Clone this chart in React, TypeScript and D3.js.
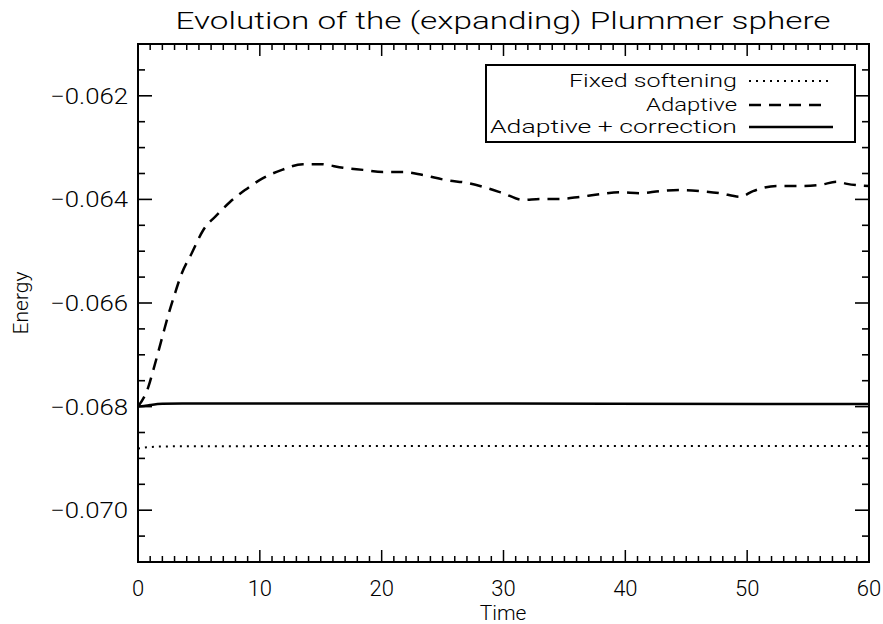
import React from "react";
import * as d3 from "d3";

const xTicks = [0, 10, 20, 30, 40, 50, 60];
const yTicks = [-0.062, -0.064, -0.066, -0.068, -0.070];
const yTickLabels = ["\u22120.062", "\u22120.064", "\u22120.066", "\u22120.068", "\u22120.070"];

const adaptiveT = [0, 0.85, 1.26, 1.67, 2.08, 2.49, 3.04, 3.59, 4.41, 5.36, 6.48, 7.55, 8.78, 10.26, 11.82, 13.54, 14.94, 16.83, 18.47, 20.11, 21.75, 23.39, 25.36, 27.0, 28.65, 29.96, 31.6, 33.0, 34.64, 36.28, 37.92, 39.56, 41.2, 42.85, 44.49, 46.13, 47.77, 49.41, 50.48, 52.45, 54.34, 55.98, 57.37, 58.2, 60];
const adaptiveE = [-0.0680, -0.06762, -0.06729, -0.06694, -0.06658, -0.06623, -0.06581, -0.06543, -0.06504, -0.06459, -0.0643, -0.06405, -0.06382, -0.06359, -0.06343, -0.06332, -0.06332, -0.06339, -0.06343, -0.06347, -0.06347, -0.06353, -0.06363, -0.06368, -0.06378, -0.06388, -0.06401, -0.06399, -0.06399, -0.06395, -0.0639, -0.06386, -0.06388, -0.06384, -0.06382, -0.06384, -0.06388, -0.06395, -0.06384, -0.06374, -0.06374, -0.06372, -0.06366, -0.0637, -0.06374];

const correctedT = [0, 0.5, 1, 2, 5, 30, 55, 60];
const correctedE = [-0.0680, -0.06799, -0.06797, -0.067945, -0.06794, -0.06794, -0.06795, -0.06795];

const fixedT = [0, 0.5, 1, 2, 4, 30, 60];
const fixedE = [-0.06881, -0.06879, -0.06878, -0.06877, -0.068765, -0.06876, -0.06876];

const legendLabels = ["Fixed softening", "Adaptive", "Adaptive + correction"];
const legendDash = ["2,5", "12,8", "none"];

const FONT = "Roboto, 'Liberation Sans', Arial, sans-serif";
const FW = 300;

export default function App() {
  const left = 138, right = 869, top = 44, bottom = 562;
  const x = d3.scaleLinear().domain([0, 60]).range([left, right]);
  const y = d3.scaleLinear().domain([-0.071, -0.061]).range([bottom, top]);

  const line = d3.line<[number, number]>().x(d => x(d[0])).y(d => y(d[1])).curve(d3.curveMonotoneX);
  const zip = (a: number[], b: number[]) => a.map((v, i) => [v, b[i]] as [number, number]);

  const xMinor = d3.range(0, 61, 1);
  const yMinor = d3.range(0, 21).map(i => -0.071 + i * 0.0005);

  const series = [
    { d: zip(fixedT, fixedE), dash: legendDash[0], w: 2 },
    { d: zip(adaptiveT, adaptiveE), dash: legendDash[1], w: 2.5 },
    { d: zip(correctedT, correctedE), dash: legendDash[2], w: 2.5 },
  ];

  const legRows = [81, 105, 127];
  const legTextLen = [168, 91, 247];

  return (
    <svg width={883} height={624} style={{ position: "absolute", left: 0, top: 0, background: "#fff" }}>
      <rect x={0} y={0} width={883} height={624} fill="#fff" />
      <text x={503} y={29} textAnchor="middle" fontFamily={FONT} fontWeight={FW} fontSize={24} textLength={655} lengthAdjust="spacingAndGlyphs">Evolution of the (expanding) Plummer sphere</text>

      <defs>
        <clipPath id="clip"><rect x={left} y={top} width={right - left} height={bottom - top} /></clipPath>
      </defs>
      <g clipPath="url(#clip)">
        {series.map((s, i) => (
          <path key={i} d={line(s.d) || ""} fill="none" stroke="#000" strokeWidth={s.w} strokeDasharray={s.dash} />
        ))}
      </g>

      {xMinor.map(t => {
        const major = t % 10 === 0;
        const len = major ? 12 : 6;
        return (
          <g key={"x" + t}>
            <line x1={x(t)} x2={x(t)} y1={bottom} y2={bottom - len} stroke="#000" strokeWidth={1.5} />
            <line x1={x(t)} x2={x(t)} y1={top} y2={top + len} stroke="#000" strokeWidth={1.5} />
          </g>
        );
      })}
      {yMinor.map((v, i) => {
        const major = yTicks.some(t => Math.abs(t - v) < 1e-9);
        const len = major ? 14 : 7;
        return (
          <g key={"y" + i}>
            <line x1={left} x2={left + len} y1={y(v)} y2={y(v)} stroke="#000" strokeWidth={1.6} />
            <line x1={right} x2={right - len} y1={y(v)} y2={y(v)} stroke="#000" strokeWidth={1.6} />
          </g>
        );
      })}
      <rect x={left} y={top} width={right - left} height={bottom - top} fill="none" stroke="#000" strokeWidth={2} />

      {xTicks.map(t => (
        <text key={"xl" + t} x={x(t)} y={596} textAnchor="middle" fontFamily={FONT} fontWeight={FW} fontSize={22}>{t}</text>
      ))}
      {yTicks.map((v, i) => (
        <text key={"yl" + i} x={128} y={y(v) + 8} textAnchor="end" fontFamily={FONT} fontWeight={FW} fontSize={22} textLength={78} lengthAdjust="spacingAndGlyphs">{yTickLabels[i]}</text>
      ))}
      <text x={503} y={620} textAnchor="middle" fontFamily={FONT} fontWeight={FW} fontSize={21}>Time</text>
      <text transform={`translate(28,303) rotate(-90)`} textAnchor="middle" fontFamily={FONT} fontWeight={FW} fontSize={21}>Energy</text>

      <rect x={486} y={65} width={369} height={77} fill="#fff" stroke="#000" strokeWidth={2} />
      {legendLabels.map((lab, i) => (
        <g key={"lg" + i}>
          <text x={737} y={legRows[i] + 6} textAnchor="end" fontFamily={FONT} fontWeight={FW} fontSize={19} textLength={legTextLen[i]} lengthAdjust="spacingAndGlyphs">{lab}</text>
          <line x1={749} x2={i === 1 ? 823 : 833} y1={legRows[i]} y2={legRows[i]} stroke="#000" strokeWidth={i === 0 ? 2 : 2.5} strokeDasharray={legendDash[i]} />
        </g>
      ))}
    </svg>
  );
}
